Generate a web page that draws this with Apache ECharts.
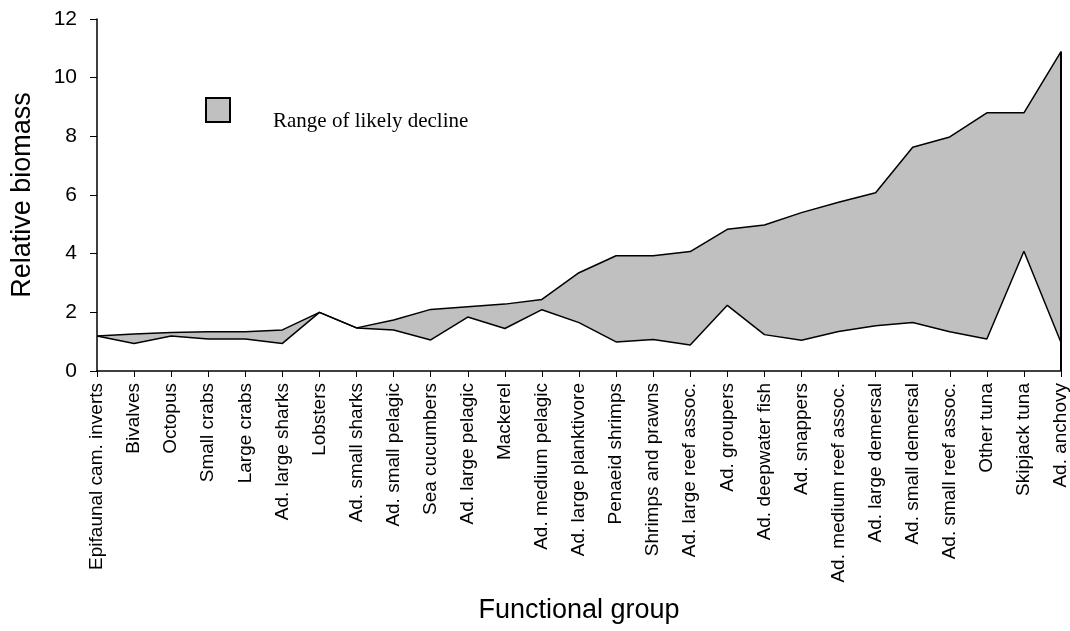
<!DOCTYPE html>
<html>
<head>
<meta charset="utf-8">
<script src="https://cdn.jsdelivr.net/npm/echarts@6/dist/echarts.min.js"></script>
<style>
html,body{margin:0;padding:0;background:#fff;}
#chart{width:1070px;height:631px;}
</style>
</head>
<body>
<div id="chart"></div>
<script>
const categories = ["Epifaunal cam. inverts","Bivalves","Octopus","Small crabs","Large crabs","Ad. large sharks","Lobsters","Ad. small sharks","Ad. small pelagic","Sea cucumbers","Ad. large pelagic","Mackerel","Ad. medium pelagic","Ad. large planktivore","Penaeid shrimps","Shrimps and prawns","Ad. large reef assoc.","Ad. groupers","Ad. deepwater fish","Ad. snappers","Ad. medium reef assoc.","Ad. large demersal","Ad. small demersal","Ad. small reef assoc.","Other tuna","Skipjack tuna","Ad. anchovy"];
const lowerValues = [1.19,0.94,1.19,1.09,1.09,0.94,2.00,1.47,1.40,1.06,1.84,1.45,2.09,1.65,0.99,1.07,0.89,2.24,1.24,1.05,1.35,1.54,1.65,1.34,1.09,4.08,0.97];
const upperValues = [1.19,1.26,1.31,1.34,1.34,1.40,2.00,1.47,1.74,2.10,2.19,2.28,2.44,3.35,3.93,3.93,4.07,4.83,4.98,5.40,5.75,6.08,7.63,7.98,8.80,8.80,10.89];
const yTicks = [0,2,4,6,8,10,12];

const rangeValues = upperValues.map((u, i) => +(u - lowerValues[i]).toFixed(3));
const lastCat = categories[categories.length - 1];
const lastUpper = upperValues[upperValues.length - 1];

const chart = echarts.init(document.getElementById('chart'), null, {renderer: 'canvas'});
chart.setOption({
  animation: false,
  backgroundColor: '#ffffff',
  grid: {left: 97, right: 9, top: 19, bottom: 260, containLabel: false, outerBoundsMode: 'none'},
  legend: {
    left: 205, top: 97,
    padding: 0,
    itemWidth: 24, itemHeight: 24,
    data: [{name: 'Range of likely decline', icon: 'rect'}],
    itemStyle: {color: '#c0c0c0', borderColor: '#000', borderWidth: 2},
    formatter: '{t|{name}}',
    textStyle: {
      fontFamily: 'Liberation Serif', fontSize: 21, color: '#000',
      rich: {t: {fontFamily: 'Liberation Serif', fontSize: 21, color: '#000', padding: [22, 0, 0, 38]}}
    },
    selectedMode: false
  },
  xAxis: {
    type: 'category',
    data: categories,
    boundaryGap: false,
    name: 'Functional group',
    nameLocation: 'middle',
    nameGap: 226,
    nameTextStyle: {fontFamily: 'Liberation Sans', fontSize: 27, color: '#000'},
    axisLine: {lineStyle: {color: '#000', width: 1.5}},
    axisTick: {show: true, length: 6, interval: 0, lineStyle: {color: '#000'}},
    axisLabel: {rotate: 90, interval: 0, margin: 12, fontFamily: 'Liberation Sans', fontSize: 19, color: '#000'},
    splitLine: {show: false}
  },
  yAxis: {
    type: 'value',
    min: yTicks[0], max: yTicks[yTicks.length - 1], interval: 2,
    name: 'Relative biomass',
    nameLocation: 'middle',
    nameGap: 61,
    nameRotate: 90,
    nameTextStyle: {fontFamily: 'Liberation Sans', fontSize: 27, color: '#000'},
    axisLine: {show: true, lineStyle: {color: '#000', width: 1.5}},
    axisTick: {show: true, length: 7, lineStyle: {color: '#000'}},
    axisLabel: {margin: 20, fontFamily: 'Liberation Sans', fontSize: 21, color: '#000'},
    splitLine: {show: false}
  },
  series: [
    {
      name: 'Lower',
      type: 'line',
      stack: 'range',
      data: lowerValues,
      symbol: 'none',
      lineStyle: {color: '#000', width: 1.5},
      z: 3,
      markLine: {
        silent: true,
        symbol: 'none',
        label: {show: false},
        lineStyle: {color: '#000', width: 2, type: 'solid'},
        data: [[{coord: [lastCat, 0]}, {coord: [lastCat, lastUpper]}]]
      }
    },
    {
      name: 'Range of likely decline',
      type: 'line',
      stack: 'range',
      data: rangeValues,
      symbol: 'none',
      lineStyle: {color: '#000', width: 1.5},
      areaStyle: {color: '#c0c0c0', opacity: 1},
      z: 2
    }
  ]
});
</script>
</body>
</html>
